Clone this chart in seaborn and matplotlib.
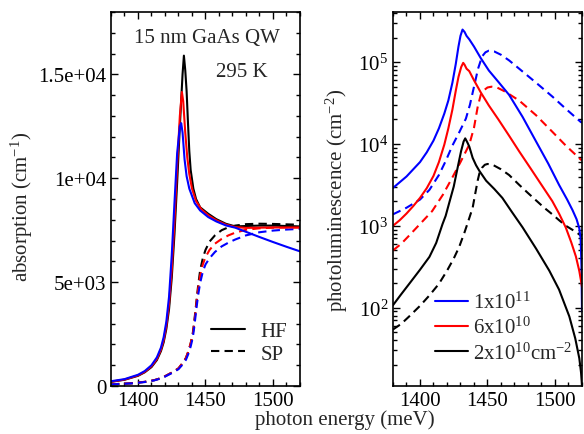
import numpy as np
import pandas as pd
import matplotlib
matplotlib.use('Agg')
import matplotlib.pyplot as plt
import seaborn as sns
from matplotlib.lines import Line2D
from matplotlib.ticker import MultipleLocator, FuncFormatter

# Absorption spectra (left panel), HF = solid, SP = dashed
hf_black_e = [1380, 1390, 1400, 1405, 1410, 1414, 1417, 1419, 1421, 1423, 1425, 1427, 1429, 1431, 1433, 1434, 1435, 1436, 1437, 1438, 1439, 1441, 1443, 1446, 1452, 1458, 1465, 1472, 1480, 1490, 1500, 1510, 1520]
hf_black_a = [200, 300, 490, 660, 910, 1250, 1680, 2100, 2750, 3700, 5200, 7300, 9800, 12500, 15000, 15900, 15200, 14200, 12700, 11300, 10400, 9500, 9000, 8600, 8290, 8030, 7810, 7680, 7700, 7720, 7720, 7700, 7680]

hf_red_e = [1380, 1390, 1400, 1405, 1410, 1414, 1417, 1419, 1421, 1423, 1425, 1427, 1429, 1431, 1432.5, 1433.5, 1435, 1436.5, 1438, 1440, 1443, 1447, 1452, 1458, 1465, 1472, 1480, 1490, 1500, 1510, 1520]
hf_red_a = [210, 310, 510, 680, 950, 1300, 1750, 2200, 2900, 3950, 5600, 7900, 10600, 13000, 14150, 13700, 12200, 11000, 10200, 9500, 8900, 8500, 8220, 7980, 7770, 7650, 7610, 7620, 7630, 7630, 7630]

hf_blue_e = [1380, 1390, 1400, 1405, 1410, 1414, 1417, 1419, 1421, 1423, 1425, 1427, 1429, 1431, 1432, 1433, 1434.5, 1436, 1438, 1442, 1446, 1452, 1458, 1465, 1472, 1480, 1490, 1500, 1510, 1520]
hf_blue_a = [230, 330, 540, 720, 1000, 1380, 1850, 2350, 3100, 4300, 6300, 8800, 11200, 12500, 12650, 12200, 10900, 10100, 9500, 8800, 8450, 8130, 7920, 7730, 7620, 7420, 7170, 6930, 6700, 6480]

sp_black_e = [1380, 1395, 1405, 1412, 1418, 1422, 1426, 1430, 1433, 1435.5, 1437.5, 1439, 1440.5, 1441.5, 1442.5, 1443.5, 1444.5, 1446, 1448, 1450, 1453, 1457, 1462, 1467, 1472, 1480, 1490, 1500, 1510, 1520]
sp_black_a = [80, 130, 200, 280, 400, 540, 680, 850, 1100, 1350, 1700, 2050, 2500, 3000, 3600, 4200, 4800, 5550, 6150, 6550, 6950, 7250, 7500, 7640, 7720, 7790, 7810, 7800, 7780, 7760]

sp_red_e = sp_black_e
sp_red_a = [80, 130, 200, 280, 400, 540, 680, 850, 1100, 1350, 1700, 2050, 2450, 2950, 3500, 4100, 4650, 5300, 5850, 6200, 6550, 6850, 7080, 7250, 7380, 7520, 7590, 7620, 7630, 7630]

sp_blue_e = sp_black_e
sp_blue_a = [75, 125, 190, 270, 385, 520, 650, 810, 1030, 1260, 1580, 1900, 2300, 2750, 3300, 3850, 4350, 4950, 5500, 5850, 6150, 6450, 6720, 6900, 7050, 7250, 7400, 7480, 7530, 7560]

# Photoluminescence spectra (right panel), HF = solid, SP = dashed
pl_blue_hf_e = [1380, 1390, 1400, 1405, 1410, 1414, 1418, 1421, 1424, 1426.5, 1428.5, 1430, 1431.5, 1433, 1434.5, 1436.5, 1440, 1445, 1451, 1458, 1466, 1476, 1486, 1495, 1503, 1509, 1513, 1516, 1518, 1519, 1519.6, 1520]
pl_blue_hf = [2900, 4000, 6000, 7900, 11000, 15500, 23500, 34000, 56000, 95000, 155000, 210000, 250000, 234000, 209000, 190000, 155000, 112000, 79000, 57500, 39800, 21400, 10700, 5750, 3160, 2090, 1550, 1200, 930, 700, 320, 90]

pl_blue_sp_e = [1380, 1390, 1400, 1407, 1414, 1419, 1424, 1429, 1434, 1437, 1440, 1443, 1446, 1448.5, 1451, 1455, 1460, 1466, 1473.5, 1486, 1498, 1508, 1519, 1520]
pl_blue_sp = [1380, 1660, 2090, 2750, 4170, 6170, 9550, 13800, 20400, 30200, 50100, 83000, 117500, 132000, 138000, 135000, 123000, 105000, 83000, 56000, 38000, 26900, 18600, 18200]

pl_red_hf_e = [1380, 1385, 1390, 1395, 1400, 1405, 1410, 1414, 1418, 1421, 1424, 1426.5, 1428.5, 1430.5, 1432, 1433, 1434.5, 1436.5, 1440, 1445, 1451, 1458, 1466, 1473.5, 1482, 1490, 1498, 1503, 1508, 1512, 1515.5, 1518, 1520]
pl_red_hf = [1000, 1170, 1410, 1740, 2190, 2880, 4070, 6000, 9800, 15500, 26300, 44700, 66000, 87000, 98000, 93000, 83000, 77600, 60000, 42700, 29500, 20000, 12600, 8100, 5000, 3160, 2000, 1410, 950, 630, 420, 280, 180]

pl_red_sp_e = [1380, 1386, 1392, 1400, 1409, 1417, 1424, 1430, 1436.5, 1440, 1442.7, 1445, 1447.6, 1450, 1453, 1457, 1463, 1473.5, 1486, 1498, 1508, 1519, 1520]
pl_red_sp = [500, 600, 760, 1050, 1510, 2400, 3900, 6000, 9800, 15800, 28200, 39800, 45700, 49000, 50100, 49000, 43700, 33900, 22400, 14100, 9550, 6460, 6310]

pl_black_hf_e = [1380, 1386, 1392, 1400, 1407, 1412, 1416.7, 1419, 1422, 1425, 1427.5, 1430.4, 1432.3, 1433.5, 1435, 1436.5, 1439, 1441.5, 1444, 1449, 1455, 1461, 1468, 1476, 1486, 1495.8, 1503, 1510.6, 1515, 1518, 1519.3, 1520]
pl_black_hf = [107, 145, 195, 290, 417, 617, 1050, 1320, 2000, 3020, 4790, 8130, 10700, 11700, 10500, 9300, 6760, 5500, 4680, 3550, 2820, 2190, 1480, 955, 525, 282, 166, 78, 42, 24, 16, 11]

pl_black_sp_e = [1380, 1386, 1392, 1400, 1407, 1414, 1420, 1425, 1429, 1433, 1436, 1439, 1441, 1442.7, 1444, 1446, 1448, 1450, 1453, 1455, 1460, 1466, 1473.5, 1480, 1486, 1492, 1498, 1503, 1508, 1514, 1519.3, 1520]
pl_black_sp = [54, 63, 78, 105, 141, 195, 282, 398, 550, 832, 1170, 1660, 2510, 3550, 4370, 5130, 5560, 5690, 5620, 5430, 4900, 4170, 3160, 2510, 2040, 1660, 1380, 1170, 1000, 870, 760, 740]

legend_left = ['HF', 'SP']
legend_right = ['1x10$^{11}$', '6x10$^{10}$', '2x10$^{10}$cm$^{-2}$']

sns.set_style('ticks')
plt.rcParams['font.family'] = ['Liberation Serif', 'DejaVu Serif']
plt.rcParams['mathtext.fontset'] = 'custom'
plt.rcParams['mathtext.rm'] = 'Liberation Serif'
plt.rcParams['mathtext.it'] = 'Liberation Serif:italic'
fs = 15
plt.rcParams['font.size'] = fs

fig = plt.figure(figsize=(5.84, 4.35), dpi=100)
ax1 = fig.add_axes([111/584, 48/435, 189/584, 374/435])
ax2 = fig.add_axes([393/584, 48/435, 189/584, 374/435])

lw = 1.5
dash = (0, (4, 2.5))
# left panel
for e, a, c in [(sp_black_e, sp_black_a, 'black'), (sp_red_e, sp_red_a, 'red'), (sp_blue_e, sp_blue_a, 'blue')]:
    sns.lineplot(x=e, y=a, color=c, lw=lw, ls=dash, ax=ax1, sort=False)
for e, a, c in [(hf_black_e, hf_black_a, 'black'), (hf_red_e, hf_red_a, 'red'), (hf_blue_e, hf_blue_a, 'blue')]:
    sns.lineplot(x=e, y=a, color=c, lw=lw, ax=ax1, sort=False)

ax1.set_xlim(1380, 1520)
ax1.set_ylim(0, 18000)
ax1.xaxis.set_major_locator(MultipleLocator(50))
ax1.xaxis.set_minor_locator(MultipleLocator(10))
ax1.yaxis.set_major_locator(MultipleLocator(5000))
ax1.yaxis.set_minor_locator(MultipleLocator(1000))
ylabels = {0: '0', 5000: '5e+03', 10000: '1e+04', 15000: '1.5e+04'}
ax1.yaxis.set_major_formatter(FuncFormatter(lambda v, p: ylabels.get(int(round(v)), '')))
ax1.set_ylabel('absorption (cm$^{-1}$)', fontsize=fs)
ax1.yaxis.set_label_coords(-0.40, 0.48)
ax1.text(0.508, 0.933, '15 nm GaAs QW', transform=ax1.transAxes, ha='center', va='center', fontsize=fs)
ax1.text(0.69, 0.84, '295 K', transform=ax1.transAxes, ha='center', va='center', fontsize=fs)
h1 = [Line2D([], [], color='black', lw=lw), Line2D([], [], color='black', lw=lw, ls=dash)]
ax1.legend(h1, legend_left, loc='lower left', bbox_to_anchor=(0.53, 0.06), frameon=False, fontsize=fs,
           handlelength=1.6, handletextpad=0.75, labelspacing=0.15, borderpad=0, borderaxespad=0)

# right panel
for e, p, c in [(pl_blue_sp_e, pl_blue_sp, 'blue'), (pl_red_sp_e, pl_red_sp, 'red'), (pl_black_sp_e, pl_black_sp, 'black')]:
    sns.lineplot(x=e, y=p, color=c, lw=lw, ls=dash, ax=ax2, sort=False)
for e, p, c in [(pl_blue_hf_e, pl_blue_hf, 'blue'), (pl_red_hf_e, pl_red_hf, 'red'), (pl_black_hf_e, pl_black_hf, 'black')]:
    sns.lineplot(x=e, y=p, color=c, lw=lw, ax=ax2, sort=False)

ax2.set_yscale('log')
ax2.set_xlim(1380, 1520)
ax2.set_ylim(11, 4.1e5)
ax2.xaxis.set_major_locator(MultipleLocator(50))
ax2.xaxis.set_minor_locator(MultipleLocator(10))
ax2.set_ylabel('photoluminescence (cm$^{-2}$)', fontsize=fs)
ax2.yaxis.set_label_coords(-0.23, 0.5)
h2 = [Line2D([], [], color=c, lw=lw) for c in ['blue', 'red', 'black']]
ax2.legend(h2, legend_right, loc='lower left', bbox_to_anchor=(0.22, 0.06), frameon=False, fontsize=fs,
           handlelength=1.6, handletextpad=0.25, labelspacing=0.2, borderpad=0, borderaxespad=0)

for ax in (ax1, ax2):
    ax.set_xlabel('')
    ax.tick_params(which='both', direction='in', top=True, right=True, colors='black', labelsize=fs)
    ax.tick_params(which='major', length=5, width=1)
    ax.tick_params(which='minor', length=3, width=1)
    for s in ax.spines.values():
        s.set_color('black')
        s.set_linewidth(1.2)

fig.text(345/584, 10/435, 'photon energy (meV)', ha='center', va='baseline', fontsize=fs)

fig.savefig('out.png', dpi=100)
